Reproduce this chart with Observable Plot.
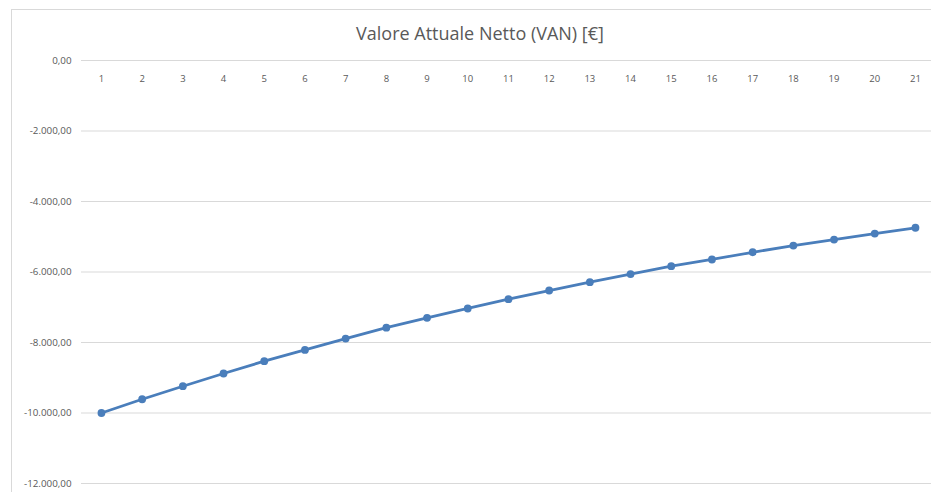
<!DOCTYPE html>
<html>
<head>
<meta charset="utf-8">
<script src="https://cdn.jsdelivr.net/npm/d3@7"></script>
<script src="https://cdn.jsdelivr.net/npm/@observablehq/plot@0.6"></script>
<style>
  html, body { margin: 0; padding: 0; background: #fff; overflow: hidden; }
  #wrap { position: relative; width: 931px; height: 492px; }
  #frame { position: absolute; left: 11px; top: 9px; width: 1000px; height: 600px; border: 1px solid #d9d9d9; box-sizing: border-box; }
  #title { position: absolute; left: 0; width: 960px; top: 20px; text-align: center; font-family: "Open Sans", sans-serif; font-size: 18px; color: #595959; line-height: 26px; white-space: nowrap; }
  #chart { position: absolute; left: 0; top: 0; }
</style>
</head>
<body>
<div id="wrap">
  <div id="frame"></div>
  <div id="title">Valore Attuale Netto (VAN) [€]</div>
  <div id="chart"></div>
</div>
<script>
const years = [1,2,3,4,5,6,7,8,9,10,11,12,13,14,15,16,17,18,19,20,21];
const van = [-10000,-9610,-9240,-8880,-8530,-8210,-7890,-7580,-7300,-7035,-6770,-6525,-6290,-6060,-5835,-5645,-5440,-5250,-5080,-4910,-4745];
const yTicks = [0,-2000,-4000,-6000,-8000,-10000,-12000];

const data = years.map((y, i) => ({anno: y, van: van[i]}));
const itFmt = d3.formatLocale({decimal: ",", thousands: ".", grouping: [3], currency: ["", "€"], minus: "-"}).format(",.2f");

const chart = Plot.plot({
  width: 931,
  height: 492,
  marginLeft: 81,
  marginRight: 0,
  marginTop: 60,
  marginBottom: 9,
  style: {fontFamily: "'Open Sans', sans-serif", fontSize: "9.8px", color: "#595959", background: "transparent"},
  x: {type: "linear", domain: [0.5, 21.5], range: [80.6, 935.3], axis: null},
  y: {domain: [-12000, 0], ticks: yTicks, tickFormat: itFmt, tickSize: 0, tickPadding: 10, label: null},
  marks: [
    Plot.ruleY(yTicks, {stroke: "#d9d9d9", strokeWidth: 1}),
    Plot.text(years, {x: d => d, frameAnchor: "top", dy: 15, text: d => String(d), fill: "#595959", fontSize: 9.5}),
    Plot.line(data, {x: "anno", y: "van", stroke: "#4a7ebb", strokeWidth: 2.8}),
    Plot.dot(data, {x: "anno", y: "van", r: 3.9, fill: "#4a7ebb", stroke: "none"})
  ]
});
document.getElementById("chart").appendChild(chart);
</script>
</body>
</html>
